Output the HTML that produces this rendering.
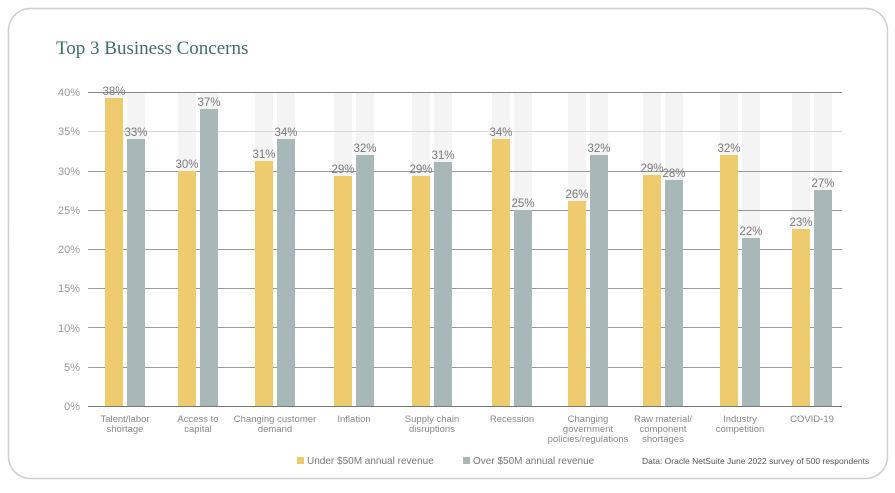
<!DOCTYPE html>
<html><head><style>
body{margin:0;width:895px;height:488px;background:#fff;overflow:hidden;font-family:"Liberation Sans",sans-serif}
</style></head><body>
<svg width="895" height="488" xmlns="http://www.w3.org/2000/svg" font-family="Liberation Sans, sans-serif">
<rect x="8.5" y="8.5" width="879" height="470" rx="22" fill="#fff" stroke="#cfcfcf" stroke-width="1.5"/>
<text x="56" y="54" font-family="Liberation Serif, serif" font-size="19" fill="#3f6e6a">Top 3 Business Concerns</text>
<g id="bg" fill="#f4f4f4"></g>
<g font-size="11" fill="#999" text-anchor="end">
<text x="80" y="96">40%</text><text x="80" y="135">35%</text><text x="80" y="175">30%</text><text x="80" y="214">25%</text><text x="80" y="253">20%</text><text x="80" y="292">15%</text><text x="80" y="332">10%</text><text x="80" y="371">5%</text><text x="80" y="410">0%</text>
</g>
<g stroke="#9a9a9a" stroke-width="1">
<line x1="88" x2="842" y1="92.5" y2="92.5" stroke="#888"/><line x1="88" x2="842" y1="131.5" y2="131.5" stroke="#d8d8d8"/><line x1="88" x2="842" y1="171.5" y2="171.5"/><line x1="88" x2="842" y1="210.5" y2="210.5"/><line x1="88" x2="842" y1="249.5" y2="249.5"/><line x1="88" x2="842" y1="288.5" y2="288.5"/><line x1="88" x2="842" y1="327.5" y2="327.5"/><line x1="88" x2="842" y1="367.5" y2="367.5"/><line x1="88" x2="842" y1="406.5" y2="406.5" stroke="#777"/>
</g>
<g id="bars"></g>
<g font-size="9.5" fill="#888" text-anchor="middle" id="cats"></g>
<rect x="297" y="457" width="7" height="7" fill="#eecb6e"/>
<text x="307" y="464" font-size="10" fill="#777">Under $50M annual revenue</text>
<rect x="463" y="457" width="7" height="7" fill="#a8b8b9"/>
<text x="473" y="464" font-size="10" fill="#777">Over $50M annual revenue</text>
<text x="642" y="464" font-size="8.5" fill="#555">Data: Oracle NetSuite June 2022 survey of 500 respondents</text>
</svg>
<script>
var xs=[105,178,255,334,412,492,568,643,720,792];
var yt=[98,171,161,176,176,139,201,175,155,229];
var gt=[139,109,139,155,162,210,155,180,238,190];
var yl=["38%","30%","31%","29%","29%","34%","26%","29%","32%","23%"];
var gl=["33%","37%","34%","32%","31%","25%","32%","28%","22%","27%"];
var cats=[["Talent/labor","shortage"],["Access to","capital"],["Changing customer","demand"],["Inflation"],["Supply chain","disruptions"],["Recession"],["Changing","government","policies/regulations"],["Raw material/","component","shortages"],["Industry","competition"],["COVID-19"]];
var ns="http://www.w3.org/2000/svg",bg=document.getElementById("bg"),b=document.getElementById("bars"),c=document.getElementById("cats");
function el(p,t,a,txt){var e=document.createElementNS(ns,t);for(var k in a)e.setAttribute(k,a[k]);if(txt)e.textContent=txt;p.appendChild(e);}
xs.forEach(function(x,i){
el(bg,"rect",{x:x,y:92,width:18,height:314});el(bg,"rect",{x:x+22,y:92,width:18,height:314});
el(b,"rect",{x:x,y:yt[i],width:18,height:406-yt[i],fill:"#eecb6e"});
el(b,"rect",{x:x+22,y:gt[i],width:18,height:406-gt[i],fill:"#a8b8b9"});
el(b,"text",{x:x+9,y:yt[i]-3,"font-size":11.5,fill:"#7a7a7a","text-anchor":"middle"},yl[i]);
el(b,"text",{x:x+31,y:gt[i]-3,"font-size":11.5,fill:"#7a7a7a","text-anchor":"middle"},gl[i]);
cats[i].forEach(function(s,j){el(c,"text",{x:x+20,y:422+j*10},s);});
});
</script>
</body></html>
